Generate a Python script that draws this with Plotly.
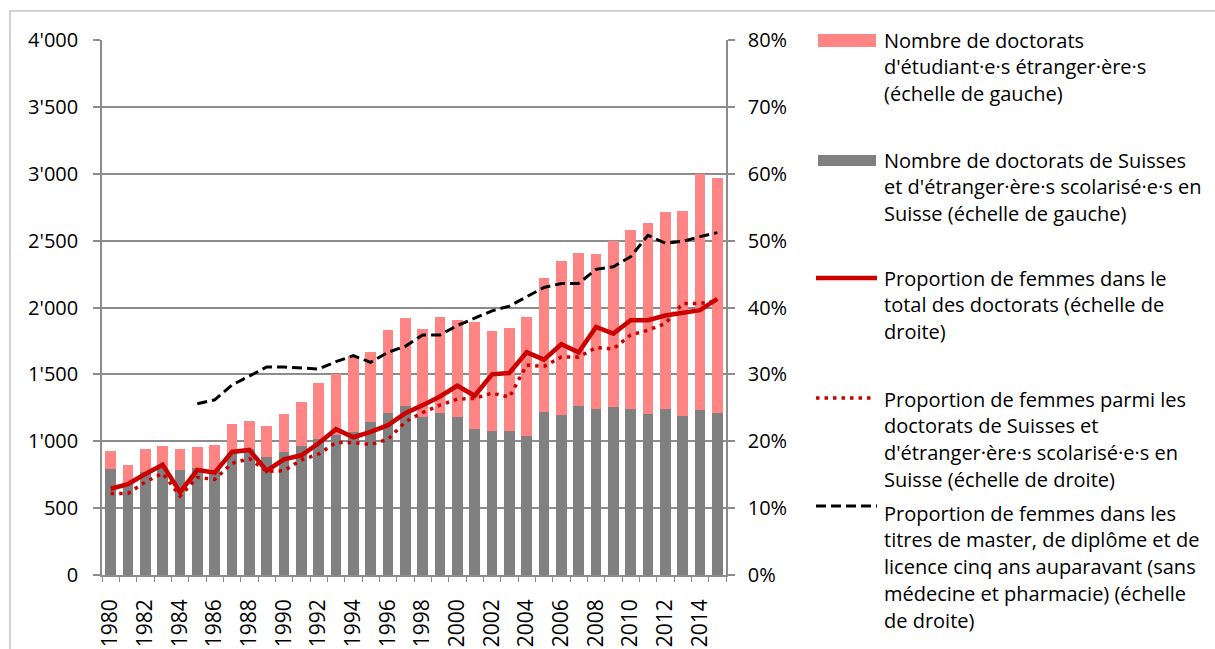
import plotly.graph_objects as go

# Years covered by the series
years = list(range(1980, 2016))

# Doctorates of Swiss nationals and foreigners schooled in Switzerland (left scale)
doct_suisses = [795, 680, 772, 800, 788, 797, 785, 915, 945, 885,
                920, 967, 1019, 1047, 1072, 1142, 1209, 1266, 1184, 1214,
                1184, 1089, 1077, 1079, 1042, 1216, 1199, 1264, 1243, 1259,
                1243, 1206, 1243, 1191, 1236, 1214]

# Doctorates of foreign students (left scale), stacked on top
doct_etrangers = [132, 145, 170, 162, 154, 160, 189, 216, 209, 229,
                  281, 329, 419, 453, 568, 528, 620, 653, 655, 715,
                  723, 800, 747, 768, 884, 1005, 1149, 1146, 1155, 1241,
                  1336, 1423, 1471, 1528, 1760, 1752]

# Share of women in all doctorates, % (right scale)
femmes_total = [12.9, 13.6, 15.1, 16.5, 12.4, 15.7, 15.3, 18.4, 18.7, 15.6,
                17.3, 17.9, 19.7, 21.8, 20.6, 21.4, 22.4, 24.2, 25.4, 26.7,
                28.3, 26.8, 30.0, 30.2, 33.3, 32.2, 34.5, 33.3, 37.1, 36.1,
                38.1, 38.1, 38.8, 39.2, 39.6, 41.3]

# Share of women among doctorates of Swiss / schooled-in-Switzerland, % (right scale)
femmes_suisses = [12.2, 12.2, 13.9, 15.2, 11.8, 14.6, 14.3, 16.7, 17.4, 15.5,
                  15.6, 17.2, 18.1, 19.8, 19.8, 19.5, 20.3, 22.9, 24.3, 25.4,
                  26.3, 26.4, 27.2, 26.6, 31.4, 31.2, 32.6, 32.6, 34.0, 33.8,
                  35.9, 36.6, 37.6, 40.6, 40.6, 41.0]

# Share of women among master/diploma/licence degrees five years earlier, % (from 1985)
femmes_master = [None, None, None, None, None,
                 25.6, 26.2, 28.4, 29.7, 31.1, 31.1, 30.9, 30.8, 31.9, 32.8,
                 31.8, 33.3, 34.2, 35.9, 35.9, 37.3, 38.4, 39.5, 40.2, 41.6,
                 43.0, 43.6, 43.6, 45.7, 46.1, 47.6, 50.8, 49.6, 49.9, 50.6, 51.2]

# Tick labels on the year axis
year_ticks = [1980, 1982, 1984, 1986, 1988, 1990, 1992, 1994, 1996, 1998,
              2000, 2002, 2004, 2006, 2008, 2010, 2012, 2014]
year_tick_labels = [str(y) for y in year_ticks]

legend_items = [
    ["Nombre de doctorats", "d'étudiant·e·s étranger·ère·s", "(échelle de gauche)"],
    ["Nombre de doctorats de Suisses", "et d'étranger·ère·s scolarisé·e·s en",
     "Suisse (échelle de gauche)"],
    ["Proportion de femmes dans le", "total des doctorats (échelle de", "droite)"],
    ["Proportion de femmes parmi les", "doctorats de Suisses et",
     "d'étranger·ère·s scolarisé·e·s en", "Suisse (échelle de droite)"],
    ["Proportion de femmes dans les", "titres de master, de diplôme et de",
     "licence cinq ans auparavant (sans", "médecine et pharmacie) (échelle",
     "de droite)"],
]

PINK = "#FF8585"
GREY = "#808080"
RED = "#CC0000"
AXIS = "#8C8C8C"
FONT = "Open Sans"

W, H = 1215, 649
L, R, T, B = 102, 726, 40, 575


def px_x(px):
    return (px - L) / (R - L)


def px_y(py):
    return (B - py) / (B - T)


fig = go.Figure()

fig.add_trace(go.Bar(x=years, y=doct_suisses, marker=dict(color=GREY, line=dict(width=0)),
                     name=legend_items[1][0]))
fig.add_trace(go.Bar(x=years, y=doct_etrangers, marker=dict(color=PINK, line=dict(width=0)),
                     name=legend_items[0][0]))

fig.add_trace(go.Scatter(x=years, y=femmes_master, yaxis="y2", mode="lines",
                         line=dict(color="black", width=3, dash="10px,5px"),
                         connectgaps=False, name=legend_items[4][0]))
fig.add_trace(go.Scatter(x=years, y=femmes_suisses, yaxis="y2", mode="lines",
                         line=dict(color=RED, width=3.5, dash="3.5px,5px"),
                         name=legend_items[3][0]))
fig.add_trace(go.Scatter(x=years, y=femmes_total, yaxis="y2", mode="lines",
                         line=dict(color=RED, width=4.5),
                         name=legend_items[2][0]))

# Legend drawn beside the plot: swatches and wrapped labels
shapes = [
    dict(type="line", xref="paper", yref="paper", x0=px_x(10), x1=px_x(W + 5),
         y0=px_y(11), y1=px_y(11), line=dict(color="#A6A6A6", width=1)),
    dict(type="line", xref="paper", yref="paper", x0=px_x(10), x1=px_x(10),
         y0=px_y(11), y1=px_y(H + 5), line=dict(color="#A6A6A6", width=1)),
    dict(type="rect", xref="paper", yref="paper", x0=px_x(818), x1=px_x(876),
         y0=px_y(34), y1=px_y(47), fillcolor=PINK, line=dict(width=0)),
    dict(type="rect", xref="paper", yref="paper", x0=px_x(818), x1=px_x(876),
         y0=px_y(155), y1=px_y(166), fillcolor=GREY, line=dict(width=0)),
    dict(type="line", xref="paper", yref="paper", x0=px_x(816), x1=px_x(877),
         y0=px_y(278), y1=px_y(278), line=dict(color=RED, width=4.5)),
    dict(type="line", xref="paper", yref="paper", x0=px_x(816), x1=px_x(872),
         y0=px_y(398), y1=px_y(398), line=dict(color=RED, width=3.5, dash="3.5px,5px")),
    dict(type="line", xref="paper", yref="paper", x0=px_x(816), x1=px_x(877),
         y0=px_y(506), y1=px_y(506), line=dict(color="black", width=3, dash="10px,5px")),
]

first_line_y = [40, 160, 278, 399, 513]
line_step = 26.8
annotations = []
for lines, y0 in zip(legend_items, first_line_y):
    for i, txt in enumerate(lines):
        annotations.append(dict(
            xref="paper", yref="paper", x=px_x(882), y=px_y(y0 + i * line_step),
            xanchor="left", yanchor="middle", text=txt, showarrow=False,
            font=dict(family=FONT, size=20, color="black")))

fig.update_layout(
    width=W, height=H,
    margin=dict(l=L, r=W - R, t=T, b=H - B, pad=0, autoexpand=False),
    paper_bgcolor="white", plot_bgcolor="white",
    barmode="stack", bargap=0.4,
    showlegend=False,
    separators=".'",
    font=dict(family=FONT, size=20, color="black"),
    xaxis=dict(
        range=[1979.5, 2015.5], tickmode="array", tickvals=year_ticks,
        ticktext=year_tick_labels, tickangle=-90, ticks="",
        tickfont=dict(family=FONT, size=21, color="black"),
        ticklabelstandoff=14, automargin=False,
        minor=dict(tick0=1979.5, dtick=1, ticks="outside", ticklen=5,
                   tickcolor=AXIS, tickwidth=1, showgrid=False),
        showline=True, linecolor=AXIS, linewidth=1.5, showgrid=False, zeroline=False,
    ),
    yaxis=dict(
        range=[0, 4000], dtick=500, tickformat=",d",
        ticks="outside", ticklen=7, tickcolor=AXIS, tickwidth=1.5,
        ticklabelstandoff=11, automargin=False,
        showline=True, linecolor=AXIS, linewidth=1.5,
        showgrid=True, gridcolor=AXIS, gridwidth=1.5, zeroline=False,
        tickfont=dict(family=FONT, size=20, color="black"),
    ),
    yaxis2=dict(
        range=[0, 80], dtick=10, ticksuffix="%", overlaying="y", side="right",
        ticks="outside", ticklen=7, tickcolor=AXIS, tickwidth=1.5,
        ticklabelstandoff=9, automargin=False,
        showline=True, linecolor=AXIS, linewidth=1.5,
        showgrid=False, zeroline=False,
        tickfont=dict(family=FONT, size=20, color="black"),
    ),
    shapes=shapes,
    annotations=annotations,
)

fig.write_html("out.html")
